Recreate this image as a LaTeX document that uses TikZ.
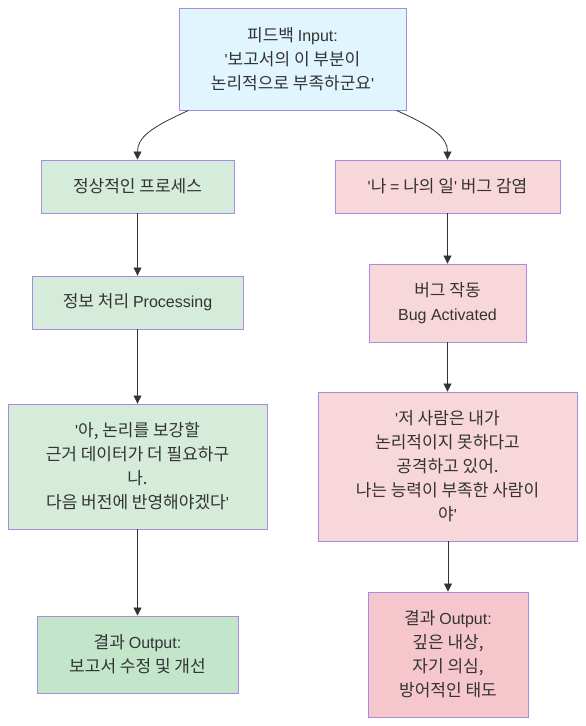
\documentclass[tikz,border=0pt]{standalone}
\usepackage{fontspec}
\setmainfont{Noto Sans CJK KR}
\newfontfamily\latf{Liberation Sans}
\newcommand{\lat}[1]{{\latf\fontsize{16}{24}\selectfont #1}}
\newcommand{\qt}{\lat{'}}
\usetikzlibrary{arrows.meta}
\definecolor{bord}{HTML}{A78BE3}
\definecolor{txt}{HTML}{333333}
\definecolor{blue1}{HTML}{E1F5FE}
\definecolor{green1}{HTML}{D5ECDA}
\definecolor{green2}{HTML}{C3E6CB}
\definecolor{pink1}{HTML}{F8D7DA}
\definecolor{pink2}{HTML}{F5C6CB}
\begin{document}
\begin{tikzpicture}[x=1pt,y=-1pt,
  box/.style={draw=bord, line width=0.9pt, align=center, text=txt,
    font=\fontsize{17}{24}\selectfont, inner sep=0pt},
  arr/.style={draw=txt, line width=0.8pt, -{Triangle[length=8pt,width=8pt]}}]
\useasboundingbox (0,0) rectangle (586,726);
\node[box, fill=blue1, minimum width=227pt, minimum height=102pt] (top) at (292.5,59)
  {피드백 \lat{Input:}\\\qt 보고서의 이 부분이\\논리적으로 부족하군요\qt};
\node[box, fill=green1, minimum width=193pt, minimum height=53pt] (l1) at (137.5,186.5)
  {정상적인 프로세스};
\node[box, fill=pink1, minimum width=225pt, minimum height=53pt] (r1) at (447.5,186.5)
  {\qt 나 \lat{=} 나의 일\qt{} 버그 감염};
\node[box, fill=green1, minimum width=211pt, minimum height=53pt] (l2) at (137.5,302.5)
  {정보 처리 \lat{Processing}};
\node[box, fill=pink1, minimum width=157pt, minimum height=78pt] (r2) at (447.5,303)
  {버그 작동\\\lat{Bug Activated}};
\node[box, fill=green1, minimum width=259pt, minimum height=125pt] (l3) at (137.5,466.5)
  {\qt 아, 논리를 보강할\\근거 데이터가 더 필요하구\\나.\\다음 버전에 반영해야겠다\qt};
\node[box, fill=pink1, minimum width=259pt, minimum height=149pt] (r3) at (447.5,466.5)
  {\qt 저 사람은 내가\\논리적이지 못하다고\\공격하고 있어.\\나는 능력이 부족한 사람이\\야\qt};
\node[box, fill=green2, minimum width=201pt, minimum height=77pt] (l4) at (137.5,654.5)
  {결과 \lat{Output:}\\보고서 수정 및 개선};
\node[box, fill=pink2, minimum width=160pt, minimum height=125pt] (r4) at (448,654.5)
  {결과 \lat{Output:}\\깊은 내상,\\자기 의심,\\방어적인 태도};
\draw[arr] ([xshift=-104pt]top.south) .. controls +(-38,17) and +(0,-22) .. (l1.north);
\draw[arr] ([xshift=104pt]top.south) .. controls +(38,17) and +(0,-22) .. (r1.north);
\draw[arr] (l1.south) -- (l2.north);
\draw[arr] (l2.south) -- (l3.north);
\draw[arr] (l3.south) -- (l4.north);
\draw[arr] (r1.south) -- (r2.north);
\draw[arr] (r2.south) -- (r3.north);
\draw[arr] (r3.south -| r4.north) -- (r4.north);
\end{tikzpicture}
\end{document}
